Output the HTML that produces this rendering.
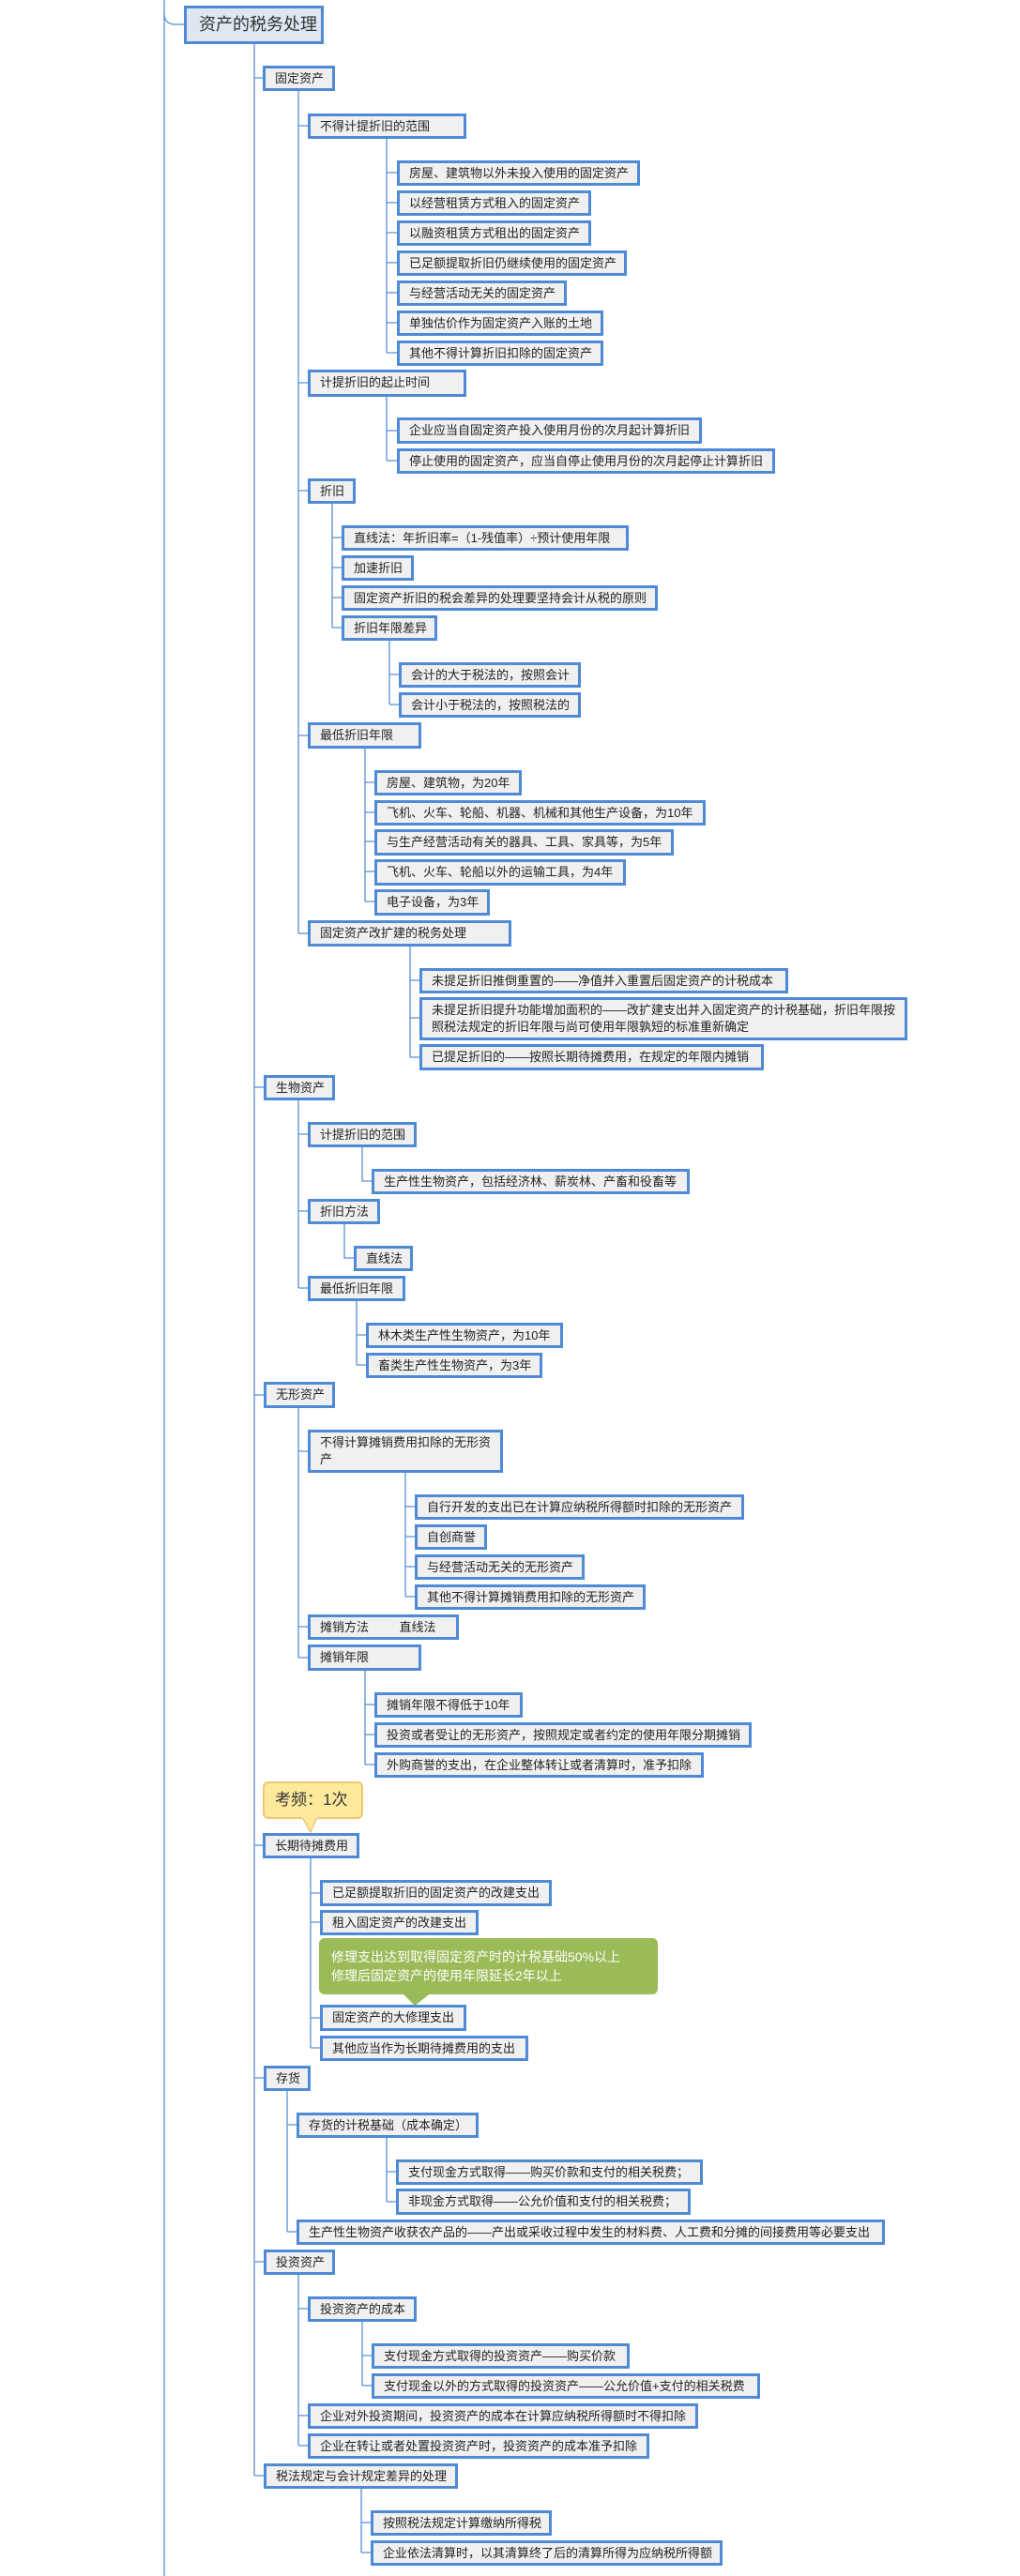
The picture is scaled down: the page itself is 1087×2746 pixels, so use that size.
<!DOCTYPE html>
<html><head><meta charset="utf-8">
<style>
html,body{margin:0;padding:0;background:#fff;}
body{width:1087px;height:2746px;position:relative;overflow:hidden;font-family:"Liberation Sans","Noto Sans CJK SC","WenQuanYi Zen Hei",sans-serif;}
.b{position:absolute;box-sizing:border-box;border:3px solid #4e8ad6;background:#f0f0f0;color:#222;font-size:13px;line-height:21px;padding-left:10px;white-space:nowrap;}
.m{white-space:normal;line-height:18px;padding-top:2px;padding-right:8px;}
svg{position:absolute;left:0;top:0;}
</style></head><body>
<svg width="1087" height="2746" fill="none" stroke="#5b8fd6" stroke-width="1.3">
<path d="M175,0 V2746"/>
<path d="M175,14 Q175,26 187,26 H196"/>
<path d="M271,47 V2639 M271,83 H280 M271,1159 H281 M271,1487 H281 M271,1967 H280 M271,2215 H281 M271,2411 H281 M271,2639 H281"/>
<path d="M318,97 V995 M318,134 H328 M318,408 H328 M318,523 H328 M318,784 H328 M318,995 H328"/>
<path d="M412,148 V376 M412,184 H423 M412,216 H423 M412,248 H423 M412,280 H423 M412,312 H423 M412,344 H423 M412,376 H423"/>
<path d="M412,423 V491 M412,459 H423 M412,491 H423"/>
<path d="M354,537 V669 M354,573 H364 M354,605 H364 M354,637 H364 M354,669 H364"/>
<path d="M415,683 V751 M415,719 H425 M415,751 H425"/>
<path d="M389,798 V961 M389,834 H399 M389,866 H399 M389,897 H399 M389,929 H399 M389,961 H399"/>
<path d="M437,1009 V1127 M437,1045 H447 M437,1085 H447 M437,1127 H447"/>
<path d="M318,1173 V1373 M318,1209 H328 M318,1291 H328 M318,1373 H328"/>
<path d="M386,1223 V1259 H396"/>
<path d="M367,1305 V1341 H377"/>
<path d="M380,1387 V1455 M380,1423 H390 M380,1455 H390"/>
<path d="M318,1501 V1767 M318,1547 H328 M318,1734 H328 M318,1767 H328"/>
<path d="M432,1570 V1702 M432,1606 H442 M432,1638 H442 M432,1670 H442 M432,1702 H442"/>
<path d="M389,1781 V1881 M389,1817 H399 M389,1849 H399 M389,1881 H399"/>
<path d="M331,1981 V2183 M331,2018 H341 M331,2049 H341 M331,2151 H341 M331,2183 H341"/>
<path d="M306,2229 V2379 M306,2265 H316 M306,2379 H316"/>
<path d="M412,2279 V2347 M412,2315 H422 M412,2347 H422"/>
<path d="M318,2425 V2607 M318,2461 H328 M318,2575 H328 M318,2607 H328"/>
<path d="M386,2475 V2543 M386,2511 H396 M386,2543 H396"/>
<path d="M385,2653 V2721 M385,2689 H395 M385,2721 H395"/>
</svg>

<div class="b" style="left:196px;top:6px;width:149px;height:41px;font-size:18px;line-height:35px;padding-left:13px;background:#dde6f1;color:#333;">资产的税务处理</div>

<div class="b" style="left:280px;top:70px;width:77px;height:27px;">固定资产</div>
<div class="b" style="left:328px;top:121px;width:169px;height:27px;">不得计提折旧的范围</div>
<div class="b" style="left:423px;top:171px;width:259px;height:27px;">房屋、建筑物以外未投入使用的固定资产</div>
<div class="b" style="left:423px;top:203px;width:207px;height:27px;">以经营租赁方式租入的固定资产</div>
<div class="b" style="left:423px;top:235px;width:207px;height:27px;">以融资租赁方式租出的固定资产</div>
<div class="b" style="left:423px;top:267px;width:245px;height:27px;">已足额提取折旧仍继续使用的固定资产</div>
<div class="b" style="left:423px;top:299px;width:181px;height:27px;">与经营活动无关的固定资产</div>
<div class="b" style="left:423px;top:331px;width:220px;height:27px;">单独估价作为固定资产入账的土地</div>
<div class="b" style="left:423px;top:363px;width:220px;height:27px;">其他不得计算折旧扣除的固定资产</div>
<div class="b" style="left:328px;top:394px;width:169px;height:29px;">计提折旧的起止时间</div>
<div class="b" style="left:423px;top:445px;width:325px;height:28px;">企业应当自固定资产投入使用月份的次月起计算折旧</div>
<div class="b" style="left:423px;top:478px;width:403px;height:27px;">停止使用的固定资产，应当自停止使用月份的次月起停止计算折旧</div>
<div class="b" style="left:328px;top:510px;width:51px;height:27px;">折旧</div>
<div class="b" style="left:364px;top:560px;width:306px;height:27px;">直线法：年折旧率=（1-残值率）÷预计使用年限</div>
<div class="b" style="left:364px;top:592px;width:77px;height:27px;">加速折旧</div>
<div class="b" style="left:364px;top:624px;width:337px;height:27px;">固定资产折旧的税会差异的处理要坚持会计从税的原则</div>
<div class="b" style="left:364px;top:656px;width:102px;height:27px;">折旧年限差异</div>
<div class="b" style="left:425px;top:706px;width:194px;height:27px;">会计的大于税法的，按照会计</div>
<div class="b" style="left:425px;top:738px;width:194px;height:27px;">会计小于税法的，按照税法的</div>
<div class="b" style="left:328px;top:770px;width:121px;height:28px;">最低折旧年限</div>
<div class="b" style="left:399px;top:821px;width:157px;height:27px;">房屋、建筑物，为20年</div>
<div class="b" style="left:399px;top:853px;width:353px;height:27px;">飞机、火车、轮船、机器、机械和其他生产设备，为10年</div>
<div class="b" style="left:399px;top:884px;width:319px;height:28px;">与生产经营活动有关的器具、工具、家具等，为5年</div>
<div class="b" style="left:399px;top:916px;width:268px;height:28px;">飞机、火车、轮船以外的运输工具，为4年</div>
<div class="b" style="left:399px;top:948px;width:123px;height:28px;">电子设备，为3年</div>
<div class="b" style="left:328px;top:981px;width:217px;height:28px;">固定资产改扩建的税务处理</div>
<div class="b" style="left:447px;top:1032px;width:393px;height:27px;">未提足折旧推倒重置的——净值并入重置后固定资产的计税成本</div>
<div class="b m" style="left:447px;top:1063px;width:520px;height:46px;">未提足折旧提升功能增加面积的——改扩建支出并入固定资产的计税基础，折旧年限按照税法规定的折旧年限与尚可使用年限孰短的标准重新确定</div>
<div class="b" style="left:447px;top:1113px;width:367px;height:28px;">已提足折旧的——按照长期待摊费用，在规定的年限内摊销</div>

<div class="b" style="left:281px;top:1146px;width:76px;height:27px;">生物资产</div>
<div class="b" style="left:328px;top:1196px;width:116px;height:27px;">计提折旧的范围</div>
<div class="b" style="left:396px;top:1246px;width:339px;height:27px;">生产性生物资产，包括经济林、薪炭林、产畜和役畜等</div>
<div class="b" style="left:328px;top:1278px;width:77px;height:27px;">折旧方法</div>
<div class="b" style="left:377px;top:1328px;width:63px;height:27px;">直线法</div>
<div class="b" style="left:328px;top:1360px;width:104px;height:27px;">最低折旧年限</div>
<div class="b" style="left:390px;top:1410px;width:210px;height:27px;">林木类生产性生物资产，为10年</div>
<div class="b" style="left:390px;top:1442px;width:188px;height:27px;">畜类生产性生物资产，为3年</div>

<div class="b" style="left:281px;top:1473px;width:76px;height:28px;">无形资产</div>
<div class="b m" style="left:328px;top:1524px;width:208px;height:46px;">不得计算摊销费用扣除的无形资产</div>
<div class="b" style="left:442px;top:1593px;width:351px;height:27px;">自行开发的支出已在计算应纳税所得额时扣除的无形资产</div>
<div class="b" style="left:442px;top:1625px;width:77px;height:27px;">自创商誉</div>
<div class="b" style="left:442px;top:1657px;width:181px;height:27px;">与经营活动无关的无形资产</div>
<div class="b" style="left:442px;top:1689px;width:246px;height:27px;">其他不得计算摊销费用扣除的无形资产</div>
<div class="b" style="left:328px;top:1721px;width:161px;height:27px;">摊销方法&nbsp;&nbsp;&nbsp;&nbsp;&nbsp;&nbsp;&nbsp;&nbsp;&nbsp;直线法</div>
<div class="b" style="left:328px;top:1753px;width:121px;height:28px;">摊销年限</div>
<div class="b" style="left:399px;top:1804px;width:158px;height:27px;">摊销年限不得低于10年</div>
<div class="b" style="left:399px;top:1836px;width:402px;height:27px;">投资或者受让的无形资产，按照规定或者约定的使用年限分期摊销</div>
<div class="b" style="left:399px;top:1868px;width:351px;height:27px;">外购商誉的支出，在企业整体转让或者清算时，准予扣除</div>

<div style="position:absolute;left:280px;top:1899px;width:107px;height:40px;box-sizing:border-box;background:#fde99c;border:2px solid #f2c66e;border-radius:6px;font-size:17px;line-height:36px;padding-left:11px;color:#333;">考频：1次</div>
<svg width="1087" height="2746" style="pointer-events:none"><path d="M322,1937 L331,1953 L338,1937 Z" fill="#fde99c" stroke="#f2c66e" stroke-width="1.5"/><rect x="321" y="1933" width="18" height="5" fill="#fde99c"/>
<path d="M428,2124 L442,2138 L460,2124 Z" fill="#9bbb59"/></svg>
<div class="b" style="left:280px;top:1954px;width:103px;height:27px;">长期待摊费用</div>
<div class="b" style="left:341px;top:2004px;width:247px;height:28px;">已足额提取折旧的固定资产的改建支出</div>
<div class="b" style="left:341px;top:2036px;width:169px;height:27px;">租入固定资产的改建支出</div>
<div style="position:absolute;left:340px;top:2066px;width:361px;height:60px;background:#9bbb59;border-radius:6px;color:#fff;font-size:14px;line-height:20px;padding:10px 0 0 13px;box-sizing:border-box;">修理支出达到取得固定资产时的计税基础50%以上<br>修理后固定资产的使用年限延长2年以上</div>
<div class="b" style="left:341px;top:2137px;width:156px;height:28px;">固定资产的大修理支出</div>
<div class="b" style="left:341px;top:2170px;width:222px;height:27px;">其他应当作为长期待摊费用的支出</div>

<div class="b" style="left:281px;top:2202px;width:50px;height:27px;">存货</div>
<div class="b" style="left:316px;top:2252px;width:194px;height:27px;">存货的计税基础（成本确定）</div>
<div class="b" style="left:422px;top:2302px;width:327px;height:27px;">支付现金方式取得——购买价款和支付的相关税费；</div>
<div class="b" style="left:422px;top:2333px;width:314px;height:28px;">非现金方式取得——公允价值和支付的相关税费；</div>
<div class="b" style="left:316px;top:2366px;width:627px;height:27px;">生产性生物资产收获农产品的——产出或采收过程中发生的材料费、人工费和分摊的间接费用等必要支出</div>

<div class="b" style="left:281px;top:2398px;width:76px;height:27px;">投资资产</div>
<div class="b" style="left:328px;top:2448px;width:116px;height:27px;">投资资产的成本</div>
<div class="b" style="left:396px;top:2498px;width:275px;height:27px;">支付现金方式取得的投资资产——购买价款</div>
<div class="b" style="left:396px;top:2530px;width:414px;height:27px;">支付现金以外的方式取得的投资资产——公允价值+支付的相关税费</div>
<div class="b" style="left:328px;top:2562px;width:416px;height:27px;">企业对外投资期间，投资资产的成本在计算应纳税所得额时不得扣除</div>
<div class="b" style="left:328px;top:2594px;width:364px;height:27px;">企业在转让或者处置投资资产时，投资资产的成本准予扣除</div>

<div class="b" style="left:281px;top:2626px;width:207px;height:27px;">税法规定与会计规定差异的处理</div>
<div class="b" style="left:395px;top:2676px;width:193px;height:27px;">按照税法规定计算缴纳所得税</div>
<div class="b" style="left:395px;top:2708px;width:375px;height:27px;">企业依法清算时，以其清算终了后的清算所得为应纳税所得额</div>
</body></html>
